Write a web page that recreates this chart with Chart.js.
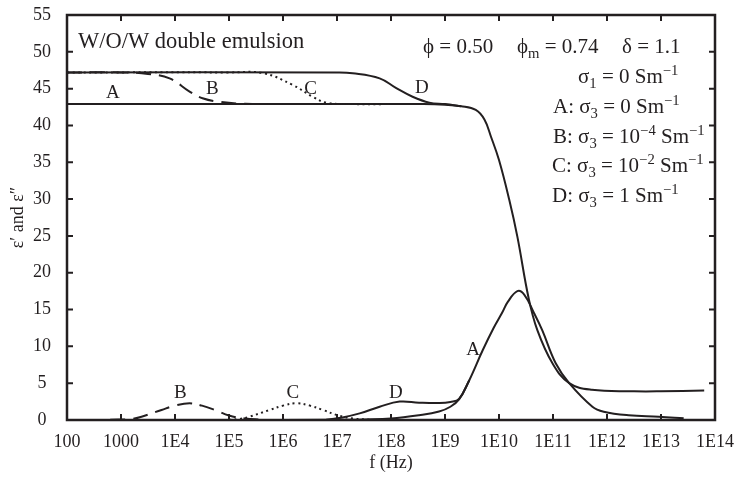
<!DOCTYPE html>
<html>
<head>
<meta charset="utf-8">
<script src="https://cdn.jsdelivr.net/npm/chart.js@4.4.0/dist/chart.umd.min.js"></script>
<style>
  html, body { margin: 0; padding: 0; background: #fff; }
  #wrap { width: 739px; height: 484px; }
</style>
</head>
<body>
<div id="wrap"><canvas id="permChart"></canvas></div>
<script>
// x axis: decades of frequency (log10 f) and their printed labels
const decades = [2, 3, 4, 5, 6, 7, 8, 9, 10, 11, 12, 13, 14];
const tickLabels = ["100", "1000", "1E4", "1E5", "1E6", "1E7", "1E8", "1E9", "1E10", "1E11", "1E12", "1E13", "1E14"];

// eps' (real part), log10(f) vs value
const realA_f = [2, 4, 6, 8, 8.6, 9.0, 9.3, 9.57, 9.73, 9.85, 10.0, 10.19, 10.34, 10.55, 10.71, 10.99, 11.3, 11.72, 12.5, 13.0, 13.8];
const realA   = [42.9, 42.9, 42.9, 42.9, 42.9, 42.8, 42.6, 42.1, 40.8, 38.5, 35.3, 29.9, 24.9, 16.5, 12.2, 7.7, 5.0, 4.1, 3.9, 3.9, 4.0];
const realB_f = [2, 3, 3.5, 3.9, 4.27, 4.51, 4.83, 5.3, 6.0];
const realB   = [47.2, 47.2, 47.0, 46.4, 44.6, 43.7, 43.2, 42.95, 42.9];
const realC_f = [2, 5.0, 5.63, 6.18, 6.55, 6.8, 7.3, 8.0];
const realC   = [47.2, 47.2, 47.1, 45.5, 43.9, 43.1, 42.9, 42.9];
const realD_f = [2, 7.0, 7.29, 7.79, 8.09, 8.4, 8.71, 9.0, 9.3];
const realD   = [47.2, 47.2, 47.1, 46.4, 45.1, 43.9, 43.1, 42.9, 42.6];

// eps'' (loss), log10(f) vs value
const lossA_f = [2.8, 5, 7, 7.5, 8.0, 8.52, 8.89, 9.1, 9.26, 9.45, 9.7, 9.9, 10.06, 10.16, 10.34, 10.47, 10.65, 10.8, 11.05, 11.3, 11.73, 11.94, 12.4, 12.96, 13.42];
const lossA   = [0, 0, 0.02, 0.08, 0.2, 0.65, 1.15, 1.8, 2.8, 5.4, 9.5, 12.5, 14.6, 16.0, 17.5, 17.0, 14.5, 12.2, 7.7, 5.0, 1.8, 1.13, 0.65, 0.45, 0.23];
const lossB_f = [2.8, 3.2, 3.38, 3.75, 4.0, 4.27, 4.5, 4.74, 5.0, 5.3, 5.6];
const lossB   = [0.02, 0.15, 0.45, 1.36, 1.95, 2.27, 1.95, 1.36, 0.6, 0.2, 0.05];
const lossC_f = [5.0, 5.2, 5.38, 5.75, 6.0, 6.25, 6.5, 6.74, 6.99, 7.3, 7.6];
const lossC   = [0.02, 0.15, 0.45, 1.36, 1.95, 2.27, 1.95, 1.36, 0.7, 0.2, 0.05];
const lossD_f = [6.5, 6.8, 7.1, 7.42, 7.79, 8.16, 8.52, 8.9, 9.1, 9.26, 9.45];
const lossD   = [0.0, 0.05, 0.35, 0.9, 1.8, 2.5, 2.35, 2.3, 2.45, 2.85, 5.4];

// curve letters drawn next to the lines
const curveTags = ["A", "B", "C", "D", "A", "B", "C", "D"];
const tagLogF   = [2.85, 4.69, 6.51, 8.57, 9.52, 4.10, 6.18, 8.09];
const tagValue  = [44.4, 45.0, 45.0, 45.1, 9.5, 3.6, 3.6, 3.7];

const ink = "#231f20";
const serif = "'Liberation Serif', 'DejaVu Serif', serif";

function toPoints(lf, vals) {
    return lf.map((e, i) => ({ x: Math.pow(10, e), y: vals[i] }));
}

function line(lf, vals, dash) {
    return {
        data: toPoints(lf, vals),
        borderColor: ink,
        borderWidth: 2,
        borderDash: dash,
        pointRadius: 0,
        fill: false,
        tension: 0.4,
    };
}

const dashed = [15, 8];
const dotted = [2, 3.5];

// draw text pieces with sub/superscripts
function drawRuns(ctx, runs, x, y, size) {
    let cx = x;
    runs.forEach(([txt, mode]) => {
        const s = mode === "n" ? size : size * 0.7;
        const dy = mode === "b" ? 5 : mode === "p" ? -8 : 0;
        ctx.font = s + "px " + serif;
        ctx.fillText(txt, cx, y + dy);
        cx += ctx.measureText(txt).width;
    });
}

const decorPlugin = {
    id: "decor",
    afterDraw(chart) {
        const { ctx, chartArea: a, scales } = chart;
        ctx.save();
        ctx.strokeStyle = ink;
        ctx.fillStyle = ink;

        // frame
        ctx.lineWidth = 2.5;
        ctx.strokeRect(a.left, a.top, a.right - a.left, a.bottom - a.top);

        // inward ticks on all four sides
        ctx.lineWidth = 2;
        ctx.beginPath();
        decades.slice(1, -1).forEach((e) => {
            const px = scales.x.getPixelForValue(Math.pow(10, e));
            ctx.moveTo(px, a.bottom); ctx.lineTo(px, a.bottom - 6);
            ctx.moveTo(px, a.top); ctx.lineTo(px, a.top + 6);
        });
        for (let v = 5; v < 55; v += 5) {
            const py = scales.y.getPixelForValue(v);
            ctx.moveTo(a.left, py); ctx.lineTo(a.left + 6, py);
            ctx.moveTo(a.right, py); ctx.lineTo(a.right - 6, py);
        }
        ctx.stroke();

        // curve letters
        ctx.font = "19px " + serif;
        ctx.textAlign = "center";
        ctx.textBaseline = "middle";
        curveTags.forEach((t, i) => {
            ctx.fillText(t, scales.x.getPixelForValue(Math.pow(10, tagLogF[i])),
                scales.y.getPixelForValue(tagValue[i]));
        });

        // annotation block
        ctx.textAlign = "left";
        ctx.textBaseline = "alphabetic";
        const fs = 21;
        drawRuns(ctx, [["W/O/W double emulsion", "n"]], 78, 48, 22.5);
        drawRuns(ctx, [["ϕ = 0.50", "n"]], 423, 53, fs);
        drawRuns(ctx, [["ϕ", "n"], ["m", "b"], [" = 0.74", "n"]], 517, 53, fs);
        drawRuns(ctx, [["δ = 1.1", "n"]], 622, 53, fs);
        drawRuns(ctx, [["σ", "n"], ["1", "b"], [" = 0 Sm", "n"], ["−1", "p"]], 578, 83, fs);
        drawRuns(ctx, [["A: σ", "n"], ["3", "b"], [" = 0 Sm", "n"], ["−1", "p"]], 553, 113, fs);
        drawRuns(ctx, [["B: σ", "n"], ["3", "b"], [" = 10", "n"], ["−4", "p"], [" Sm", "n"], ["−1", "p"]], 553, 143, fs);
        drawRuns(ctx, [["C: σ", "n"], ["3", "b"], [" = 10", "n"], ["−2", "p"], [" Sm", "n"], ["−1", "p"]], 552, 172, fs);
        drawRuns(ctx, [["D: σ", "n"], ["3", "b"], [" = 1 Sm", "n"], ["−1", "p"]], 552, 202, fs);
        ctx.restore();
    },
};

document.addEventListener("DOMContentLoaded", function () {
    const ctx = document.getElementById("permChart").getContext("2d");
    new Chart(ctx, {
        type: "line",
        data: {
            datasets: [
                line(lossB_f, lossB, dashed),
                line(lossC_f, lossC, dotted),
                line(lossD_f, lossD, []),
                line(lossA_f, lossA, []),
                line(realB_f, realB, dashed),
                line(realC_f, realC, dotted),
                line(realD_f, realD, []),
                line(realA_f, realA, []),
            ],
        },
        options: {
            responsive: true,
            maintainAspectRatio: false,
            animation: false,
            devicePixelRatio: 1,
            layout: { padding: { left: 0, right: 24, top: 15, bottom: 0 } },
            plugins: {
                legend: { display: false },
                tooltip: { enabled: false },
            },
            scales: {
                x: {
                    type: "logarithmic",
                    min: 100,
                    max: 1e14,
                    afterBuildTicks: (s) => {
                        s.ticks = decades.map((e) => ({ value: Math.pow(10, e) }));
                    },
                    afterFit: (s) => {
                        s.height = 64;
                        s.paddingLeft = 0;
                        s.paddingRight = 0;
                    },
                    grid: { display: false, drawTicks: false },
                    border: { display: false },
                    ticks: {
                        autoSkip: false,
                        maxRotation: 0,
                        padding: 11,
                        color: ink,
                        font: { family: serif, size: 18 },
                        callback: (v, i) => tickLabels[i],
                    },
                    title: {
                        display: true,
                        text: "f (Hz)",
                        color: ink,
                        font: { family: serif, size: 18 },
                        padding: { top: 0, bottom: 10 },
                    },
                },
                y: {
                    min: 0,
                    max: 55,
                    afterFit: (s) => {
                        s.width = 67;
                        s.paddingTop = 0;
                        s.paddingBottom = 0;
                    },
                    grid: { display: false, drawTicks: false },
                    border: { display: false },
                    ticks: {
                        stepSize: 5,
                        padding: 16,
                        crossAlign: "center",
                        color: ink,
                        font: { family: serif, size: 18 },
                    },
                    title: {
                        display: true,
                        text: "ε′ and ε″",
                        color: ink,
                        font: { family: serif, size: 18 },
                        padding: { top: 7, bottom: 0 },
                    },
                },
            },
        },
        plugins: [decorPlugin],
    });
});
</script>
</body>
</html>
